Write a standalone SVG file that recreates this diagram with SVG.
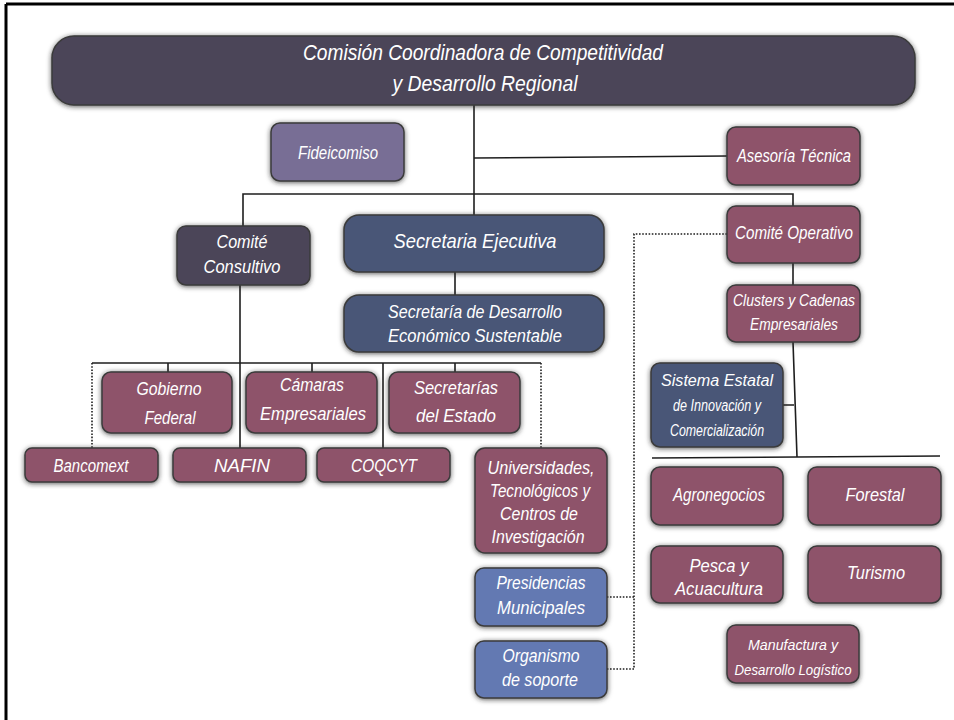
<svg xmlns="http://www.w3.org/2000/svg" width="954" height="720" viewBox="0 0 954 720">
<defs>
<filter id="sh" x="-20%" y="-20%" width="140%" height="140%">
<feGaussianBlur in="SourceAlpha" stdDeviation="2.5"/>
<feOffset dx="0" dy="1" result="b"/>
<feFlood flood-color="#222" flood-opacity="0.75"/>
<feComposite in2="b" operator="in"/>
<feMerge><feMergeNode/><feMergeNode in="SourceGraphic"/></feMerge>
</filter>
<style>
.n{stroke:#3b3b3b;stroke-width:1.5;filter:url(#sh)}
.dk{fill:#4b4559}.lv{fill:#786e95}.mv{fill:#8e526b}.sl{fill:#485677}.lb{fill:#6479b2}
text{fill:#fff;font-family:"Liberation Sans",sans-serif;font-style:italic;text-anchor:middle}
.t16{font-size:18px}.t15{font-size:16px}.t14{font-size:15px}
.c{fill:none;stroke:#1e1e1e;stroke-width:1.6}
.d{fill:none;stroke:#1e1e1e;stroke-width:1.6;stroke-dasharray:1.6 1.6}
</style>
</defs>
<rect width="954" height="720" fill="#fff"/>
<path d="M6 4H954M6 4V720" fill="none" stroke="#000" stroke-width="3"/>
<g id="connectors">
<path class="c" d="M474 104V215"/>
<path class="c" d="M474 158L727 156"/>
<path class="c" d="M243 226V194H793V206"/>
<path class="c" d="M455 272V295"/>
<path class="c" d="M240 285V449"/>
<path class="c" d="M92 363H541"/>
<path class="c" d="M168 363V372M312 363V372M455 363V372M383 363V449"/>
<path class="d" d="M92 363V449M541 363V449"/>
<path class="c" d="M793 263V285"/>
<path class="c" d="M793 342L797 457M783 405H794"/>
<path class="c" d="M652 458L940 456"/>
<path class="d" d="M727 234H634V669H607M634 597H607"/>
</g>
<g id="main"><rect class="n dk" x="52" y="36" width="863" height="69" rx="22"/><text x="483" y="60" style="font-size:22px" textLength="360" lengthAdjust="spacingAndGlyphs">Comisión Coordinadora de Competitividad</text><text x="485" y="91" style="font-size:22px" textLength="185" lengthAdjust="spacingAndGlyphs">y Desarrollo Regional</text></g>
<g id="fideicomiso"><rect class="n lv" x="271" y="123" width="133" height="58" rx="9"/><text class="t16" x="338" y="159" textLength="80" lengthAdjust="spacingAndGlyphs">Fideicomiso</text></g>
<g id="asesoria"><rect class="n mv" x="727" y="127" width="133" height="58" rx="9"/><text class="t16" x="794" y="162" textLength="114" lengthAdjust="spacingAndGlyphs">Asesoría Técnica</text></g>
<g id="consultivo"><rect class="n dk" x="177" y="226" width="133" height="59" rx="9"/><text class="t16" x="242" y="248" textLength="51" lengthAdjust="spacingAndGlyphs">Comité</text><text class="t16" x="242" y="273" textLength="77" lengthAdjust="spacingAndGlyphs">Consultivo</text></g>
<g id="ejecutiva"><rect class="n sl" x="344" y="215" width="260" height="57" rx="15"/><text x="475" y="248" style="font-size:21px" textLength="163" lengthAdjust="spacingAndGlyphs">Secretaria Ejecutiva</text></g>
<g id="sedes"><rect class="n sl" x="344" y="295" width="260" height="57" rx="15"/><text class="t16" x="475" y="318" textLength="174" lengthAdjust="spacingAndGlyphs">Secretaría de Desarrollo</text><text class="t16" x="475" y="342" textLength="174" lengthAdjust="spacingAndGlyphs">Económico Sustentable</text></g>
<g id="operativo"><rect class="n mv" x="727" y="206" width="133" height="57" rx="9"/><text class="t16" x="794" y="239" textLength="118" lengthAdjust="spacingAndGlyphs">Comité Operativo</text></g>
<g id="clusters"><rect class="n mv" x="727" y="285" width="133" height="57" rx="9"/><text class="t15" x="794" y="306" textLength="122" lengthAdjust="spacingAndGlyphs">Clusters y Cadenas</text><text class="t15" x="794" y="330" textLength="88" lengthAdjust="spacingAndGlyphs">Empresariales</text></g>
<g id="sistema"><rect class="n sl" x="651" y="363" width="132" height="84" rx="9"/><text class="t15" x="717" y="386" textLength="112" lengthAdjust="spacingAndGlyphs">Sistema Estatal</text><text class="t15" x="717" y="411" textLength="88" lengthAdjust="spacingAndGlyphs">de Innovación y</text><text class="t15" x="717" y="436" textLength="94" lengthAdjust="spacingAndGlyphs">Comercialización</text></g>
<g id="gobierno"><rect class="n mv" x="102" y="372" width="130" height="61" rx="9"/><text class="t16" x="169" y="395" textLength="65" lengthAdjust="spacingAndGlyphs">Gobierno</text><text class="t16" x="170" y="424" textLength="51" lengthAdjust="spacingAndGlyphs">Federal</text></g>
<g id="camaras"><rect class="n mv" x="246" y="372" width="131" height="61" rx="9"/><text class="t16" x="312" y="391" textLength="64" lengthAdjust="spacingAndGlyphs">Cámaras</text><text class="t16" x="313" y="420" textLength="106" lengthAdjust="spacingAndGlyphs">Empresariales</text></g>
<g id="secretarias"><rect class="n mv" x="389" y="372" width="131" height="61" rx="9"/><text class="t16" x="456" y="394" textLength="84" lengthAdjust="spacingAndGlyphs">Secretarías</text><text class="t16" x="456" y="422" textLength="80" lengthAdjust="spacingAndGlyphs">del Estado</text></g>
<g id="bancomext"><rect class="n mv" x="25" y="448" width="133" height="34" rx="7"/><text class="t16" x="91" y="472" textLength="75" lengthAdjust="spacingAndGlyphs">Bancomext</text></g>
<g id="nafin"><rect class="n mv" x="173" y="448" width="133" height="34" rx="7"/><text class="t16" x="242" y="472" textLength="56" lengthAdjust="spacingAndGlyphs">NAFIN</text></g>
<g id="coqcyt"><rect class="n mv" x="317" y="448" width="133" height="34" rx="7"/><text class="t16" x="384" y="472" textLength="66" lengthAdjust="spacingAndGlyphs">COQCYT</text></g>
<g id="universidades"><rect class="n mv" x="475" y="448" width="132" height="105" rx="10"/><text class="t16" x="541" y="474" textLength="107" lengthAdjust="spacingAndGlyphs">Universidades,</text><text class="t16" x="540" y="497" textLength="100" lengthAdjust="spacingAndGlyphs">Tecnológicos y</text><text class="t16" x="539" y="520" textLength="78" lengthAdjust="spacingAndGlyphs">Centros de</text><text class="t16" x="538" y="543" textLength="93" lengthAdjust="spacingAndGlyphs">Investigación</text></g>
<g id="presidencias"><rect class="n lb" x="475" y="568" width="132" height="58" rx="9"/><text class="t16" x="541" y="589" textLength="89" lengthAdjust="spacingAndGlyphs">Presidencias</text><text class="t16" x="541" y="614" textLength="88" lengthAdjust="spacingAndGlyphs">Municipales</text></g>
<g id="organismo"><rect class="n lb" x="475" y="641" width="132" height="57" rx="9"/><text class="t16" x="541" y="662" textLength="77" lengthAdjust="spacingAndGlyphs">Organismo</text><text class="t16" x="540" y="686" textLength="76" lengthAdjust="spacingAndGlyphs">de soporte</text></g>
<g id="agronegocios"><rect class="n mv" x="651" y="467" width="132" height="58" rx="9"/><text class="t16" x="719" y="501" textLength="92" lengthAdjust="spacingAndGlyphs">Agronegocios</text></g>
<g id="forestal"><rect class="n mv" x="808" y="467" width="133" height="58" rx="9"/><text class="t16" x="875" y="501" textLength="59" lengthAdjust="spacingAndGlyphs">Forestal</text></g>
<g id="pesca"><rect class="n mv" x="651" y="546" width="132" height="57" rx="9"/><text class="t16" x="719" y="572" textLength="59" lengthAdjust="spacingAndGlyphs">Pesca y</text><text class="t16" x="719" y="595" textLength="88" lengthAdjust="spacingAndGlyphs">Acuacultura</text></g>
<g id="turismo"><rect class="n mv" x="808" y="546" width="133" height="57" rx="9"/><text class="t16" x="876" y="579" textLength="58" lengthAdjust="spacingAndGlyphs">Turismo</text></g>
<g id="manufactura"><rect class="n mv" x="727" y="625" width="132" height="58" rx="9"/><text class="t14" x="793" y="650" textLength="90" lengthAdjust="spacingAndGlyphs">Manufactura y</text><text class="t14" x="793" y="675" textLength="117" lengthAdjust="spacingAndGlyphs">Desarrollo Logístico</text></g>
</svg>
